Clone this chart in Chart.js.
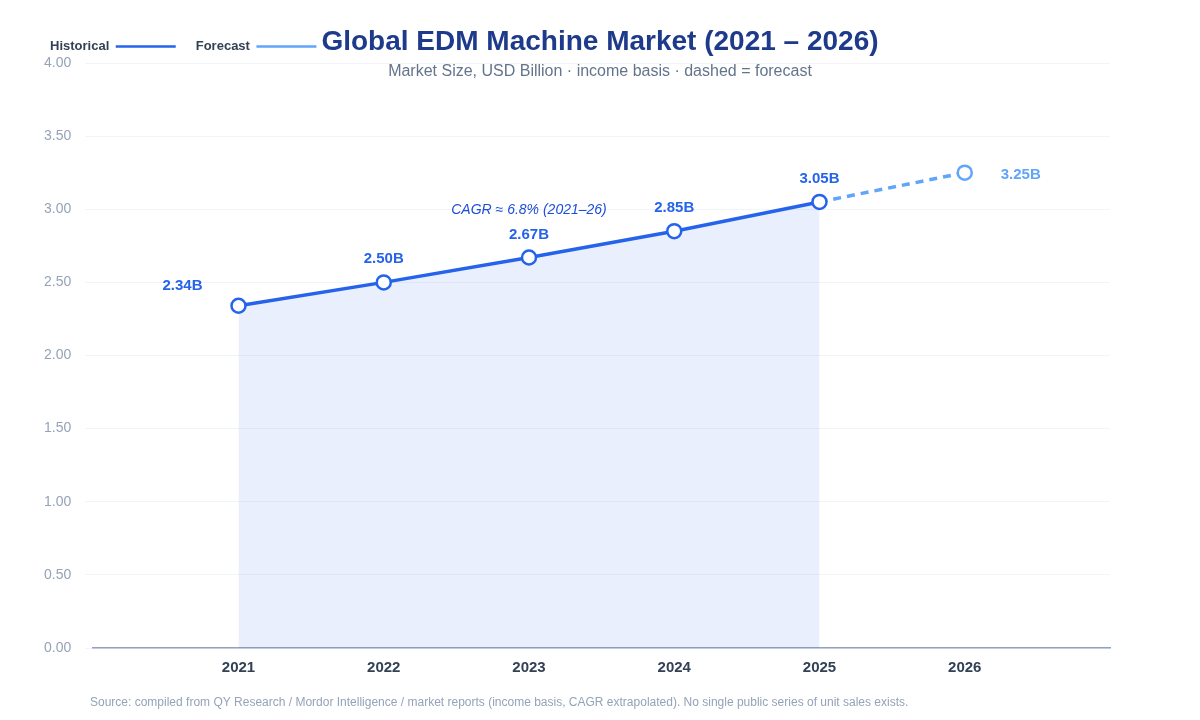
<!DOCTYPE html>
<html>
<head>
<meta charset="utf-8">
<script src="https://cdn.jsdelivr.net/npm/chart.js@4"></script>
<style>
  body { margin: 0; background: #fff; }
  #wrap { width: 1200px; height: 720px; }
</style>
</head>
<body>
<div id="wrap"><canvas id="grafico"></canvas></div>
<script>
const anios = [2021, 2022, 2023, 2024, 2025];
const valoresHist = [2.34, 2.50, 2.67, 2.85, 3.05];
const aniosPrev = [2025, 2026];
const valoresPrev = [3.05, 3.25];
const etiquetasY = [0, 0.5, 1, 1.5, 2, 2.5, 3, 3.5, 4];

const fuente = "'Liberation Sans', Arial, Helvetica, sans-serif";

// titulo, subtitulo, etiquetas y fuente dibujados a mano
const extras = {
    id: 'extras',
    afterDatasetsDraw(chart) {
        const ctx = chart.ctx;
        const x = chart.scales.x, y = chart.scales.y;
        ctx.save();
        ctx.textAlign = 'center';
        ctx.textBaseline = 'alphabetic';
        ctx.font = "bold 15px " + fuente;
        anios.forEach((a, i) => {
            const px = x.getPixelForValue(a), py = y.getPixelForValue(valoresHist[i]);
            ctx.fillStyle = '#2563eb';
            if (i === 0) ctx.fillText(valoresHist[i].toFixed(2) + 'B', px - 56, py - 16);
            else ctx.fillText(valoresHist[i].toFixed(2) + 'B', px, py - 19);
        });
        ctx.fillStyle = '#60a5fa';
        const px6 = x.getPixelForValue(2026), py6 = y.getPixelForValue(3.25);
        ctx.fillText('3.25B', px6 + 56, py6 + 6);
        ctx.fillStyle = '#1d4ed8';
        ctx.font = "italic 14px " + fuente;
        ctx.fillText('CAGR ≈ 6.8% (2021–26)', x.getPixelForValue(2023), y.getPixelForValue(3.0) + 5);

        ctx.fillStyle = '#1e3a8a';
        ctx.font = "bold 28px " + fuente;
        ctx.fillText('Global EDM Machine Market (2021 – 2026)', 600, 50);
        ctx.fillStyle = '#64748b';
        ctx.font = "16px " + fuente;
        ctx.fillText('Market Size, USD Billion · income basis · dashed = forecast', 600, 76);
        ctx.textAlign = 'left';
        ctx.fillStyle = '#94a3b8';
        ctx.font = "12px " + fuente;
        ctx.fillText('Source: compiled from QY Research / Mordor Intelligence / market reports (income basis, CAGR extrapolated). No single public series of unit sales exists.', 90, 706);
        ctx.restore();
    }
};

new Chart(document.getElementById('grafico'), {
    type: 'line',
    data: {
        datasets: [{
            label: 'Historical',
            data: anios.map((a, i) => ({ x: a, y: valoresHist[i] })),
            borderColor: '#2563eb',
            backgroundColor: 'rgba(37, 99, 235, 0.1)',
            borderWidth: 3.5,
            fill: 'origin',
            pointRadius: 7,
            pointBorderWidth: 2.5,
            pointBackgroundColor: '#fff',
            pointBorderColor: '#2563eb'
        }, {
            label: 'Forecast',
            data: aniosPrev.map((a, i) => ({ x: a, y: valoresPrev[i] })),
            borderColor: '#60a5fa',
            backgroundColor: '#60a5fa',
            borderWidth: 3.5,
            borderDash: [8, 6],
            fill: false,
            pointRadius: [0, 7],
            pointBorderWidth: 2.5,
            pointBackgroundColor: '#fff',
            pointBorderColor: '#60a5fa'
        }]
    },
    options: {
        responsive: true,
        maintainAspectRatio: false,
        animation: false,
        layout: { padding: { top: 20, right: 90, bottom: 40, left: 30 } },
        plugins: {
            legend: {
                position: 'top',
                align: 'end',
                rtl: true,
                reverse: true,
                labels: {
                    usePointStyle: true,
                    pointStyle: 'line',
                    pointStyleWidth: 60,
                    boxHeight: 3,
                    color: '#334155',
                    font: { family: fuente, size: 13, weight: 'bold' },
                    padding: 20
                }
            },
            tooltip: { enabled: false }
        },
        scales: {
            x: {
                type: 'linear',
                min: 2020,
                max: 2027,
                grid: { display: false },
                border: { color: '#94a3b8', width: 1.5 },
                ticks: {
                    stepSize: 1,
                    color: '#334155',
                    font: { family: fuente, size: 15, weight: 'bold' },
                    callback: v => (v >= 2021 && v <= 2026) ? String(v) : ''
                }
            },
            y: {
                min: 0,
                max: 4,
                afterBuildTicks: s => { s.ticks = etiquetasY.map(v => ({ value: v })); },
                grid: { color: '#f1f5f9' },
                border: { display: false },
                ticks: {
                    color: '#94a3b8',
                    padding: 14,
                    font: { family: fuente, size: 14 },
                    callback: v => Number(v).toFixed(2)
                }
            }
        }
    },
    plugins: [extras]
});
</script>
</body>
</html>
